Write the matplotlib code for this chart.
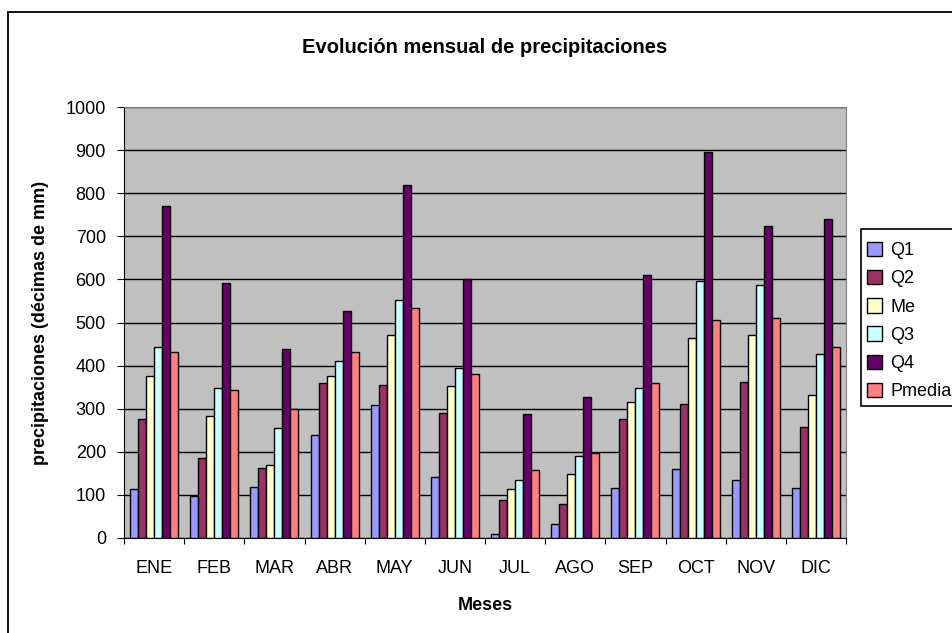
import matplotlib
matplotlib.use("Agg")
import matplotlib.pyplot as plt
from matplotlib.patches import Rectangle
import numpy as np

plt.rcParams["font.family"] = ["Liberation Sans", "DejaVu Sans"]

meses = ["ENE", "FEB", "MAR", "ABR", "MAY", "JUN", "JUL", "AGO", "SEP", "OCT", "NOV", "DIC"]
q1 = [113, 97, 118, 240, 309, 141, 10, 33, 116, 160, 135, 116]
q2 = [277, 186, 163, 359, 356, 290, 88, 78, 277, 312, 363, 258]
me = [376, 284, 170, 376, 470, 353, 113, 148, 315, 465, 470, 331]
q3 = [442, 347, 255, 410, 553, 395, 135, 191, 347, 597, 588, 426]
q4 = [771, 591, 439, 527, 819, 600, 287, 328, 610, 895, 724, 741]
pmedia = [432, 344, 299, 432, 534, 381, 157, 198, 359, 505, 511, 442]

series = [("Q1", q1, "#9999FF"), ("Q2", q2, "#993366"), ("Me", me, "#FFFFCC"),
          ("Q3", q3, "#CCFFFF"), ("Q4", q4, "#660066"), ("Pmedia", pmedia, "#FF8080")]

W, H = 952, 633
fig = plt.figure(figsize=(W / 100, H / 100), dpi=100)

# outer chart border (cropped on the right and bottom)
fig.patches.append(Rectangle((8 / W, -0.1), 1.2, 1 - 12 / H + 0.1, transform=fig.transFigure,
                             fill=False, edgecolor="black", lw=1.3))

ax = fig.add_axes([124 / W, 1 - 538 / H, (846 - 124) / W, (538 - 107) / H])
ax.set_facecolor("#C0C0C0")

x = np.arange(len(meses))
w = 0.133
for i, (name, vals, col) in enumerate(series):
    ax.bar(x + (i - 2.5) * w, vals, w, color=col, edgecolor="black", lw=1.0, label=name, zorder=3)

ax.set_xlim(-0.5, 11.5)
ax.set_ylim(0, 1000)
ax.set_yticks(np.arange(0, 1001, 100))
ax.yaxis.grid(True, color="black", lw=1, zorder=0)
ax.set_axisbelow(True)

ax.set_xticks(np.arange(-0.5, 12, 1))
ax.set_xticklabels([])
ax.set_xticks(x, minor=True)
ax.set_xticklabels(meses, minor=True)
ax.tick_params(axis="x", which="minor", length=0, pad=16, labelsize=13)
ax.tick_params(axis="x", which="major", length=4, direction="out")
ax.tick_params(axis="y", length=5, direction="out", labelsize=13, pad=8)

for s in ["top", "right"]:
    ax.spines[s].set_color("#808080")
for s in ["left", "bottom"]:
    ax.spines[s].set_color("black")

ax.set_title("Evolución mensual de precipitaciones", fontsize=14.5, fontweight="bold", pad=39)
ax.set_ylabel("precipitaciones (décimas de mm)", fontsize=13, fontweight="bold", labelpad=12)
ax.set_xlabel("Meses", fontsize=13, fontweight="bold", labelpad=14)

# legend box (cropped on the right)
fig.patches.append(Rectangle((861 / W, 1 - 406 / H), 0.3, (406 - 229) / H, transform=fig.transFigure,
                             fill=True, facecolor="white", edgecolor="black", lw=1.2))
fig.legend(loc="upper left", bbox_to_anchor=(863 / W, 1 - 238 / H), frameon=False,
           fontsize=13, handlelength=0.85, handleheight=0.85, handletextpad=0.45,
           labelspacing=0.6, borderpad=0.2, borderaxespad=0)

fig.savefig("out.png", dpi=100)
